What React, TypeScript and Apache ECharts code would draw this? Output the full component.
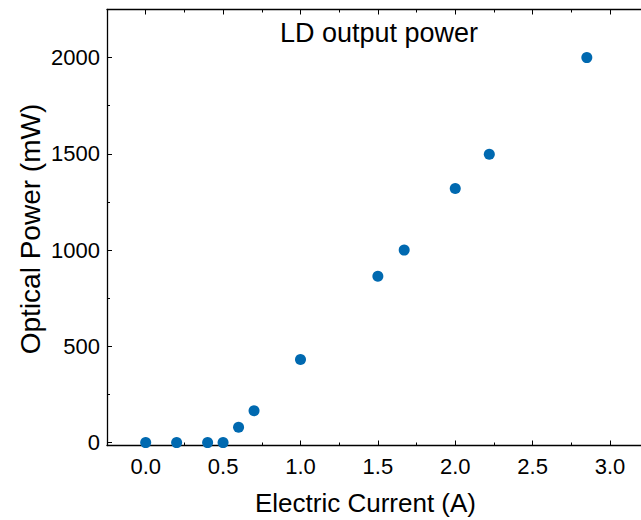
import React, { useEffect, useRef } from "react";
import * as echarts from "echarts";

const currentA = [0.0, 0.2, 0.4, 0.5, 0.6, 0.7, 1.0, 1.5, 1.67, 2.0, 2.22, 2.85];
const powerMW = [0, 0, 0, 0, 80, 165, 432, 864, 1000, 1320, 1498, 2000];
const xMajor = [0, 0.5, 1.0, 1.5, 2.0, 2.5, 3.0];
const xMinor = [-0.25, 0.25, 0.75, 1.25, 1.75, 2.25, 2.75];
const yMajor = [0, 500, 1000, 1500, 2000];
const yMinor = [250, 750, 1250, 1750];
const titleText = "LD output power";
const xTitle = "Electric Current (A)";
const yTitle = "Optical Power (mW)";

const FONT = "'Liberation Sans', Arial, sans-serif";
const X_MIN = -0.25;
const X_MAX = 3.2;
const Y_MIN = -15;
const Y_MAX = 2250;

export default function App() {
  const ref = useRef<HTMLDivElement>(null);
  useEffect(() => {
    const chart = echarts.init(ref.current!, null, { renderer: "svg" });
    const line = { show: true, onZero: false, lineStyle: { color: "#000", width: 1.3 } };
    const noLine = { show: false, onZero: false };
    const tick = (vals: number[], len: number) => ({
      show: true,
      inside: true,
      length: len,
      customValues: vals,
      lineStyle: { color: "#000", width: 1 },
    });
    const xBase = { type: "value" as const, min: X_MIN, max: X_MAX, splitLine: { show: false } };
    const yBase = { type: "value" as const, min: Y_MIN, max: Y_MAX, splitLine: { show: false } };
    chart.setOption({
      animation: false,
      backgroundColor: "#fff",
      grid: { left: 107, top: 9.5, width: 535, height: 436, containLabel: false },
      graphic: [
        {
          type: "text",
          x: 379,
          y: 33,
          style: {
            text: titleText,
            fontFamily: FONT,
            fontSize: 27,
            fill: "#000",
            align: "center",
            verticalAlign: "middle",
          },
        },
        {
          type: "text",
          x: 365.5,
          y: 503,
          style: {
            text: xTitle,
            fontFamily: FONT,
            fontSize: 26,
            fill: "#000",
            align: "center",
            verticalAlign: "middle",
          },
        },
        {
          type: "text",
          x: 30,
          y: 229,
          rotation: Math.PI / 2,
          style: {
            text: yTitle,
            fontFamily: FONT,
            fontSize: 28,
            fill: "#000",
            align: "center",
            verticalAlign: "middle",
          },
        },
      ],
      xAxis: [
        {
          ...xBase,
          position: "bottom",
          axisLine: line,
          axisTick: tick(xMajor, 5),
          axisLabel: {
            show: true,
            margin: 10,
            fontFamily: FONT,
            fontSize: 22,
            color: "#000",
            customValues: xMajor,
            formatter: (v: number) => v.toFixed(1),
          },
        },
        {
          ...xBase,
          position: "bottom",
          axisLine: noLine,
          axisTick: tick(xMinor, 3),
          axisLabel: { show: false },
        },
        {
          ...xBase,
          position: "top",
          axisLine: line,
          axisTick: tick(xMajor, 5),
          axisLabel: { show: false },
        },
        {
          ...xBase,
          position: "top",
          axisLine: noLine,
          axisTick: tick(xMinor, 3),
          axisLabel: { show: false },
        },
      ],
      yAxis: [
        {
          ...yBase,
          position: "left",
          axisLine: line,
          axisTick: tick(yMajor, 5),
          axisLabel: {
            show: true,
            margin: 7,
            fontFamily: FONT,
            fontSize: 22,
            color: "#000",
            customValues: yMajor,
            formatter: (v: number) => String(v),
          },
        },
        {
          ...yBase,
          position: "left",
          axisLine: noLine,
          axisTick: tick(yMinor, 3),
          axisLabel: { show: false },
        },
      ],
      series: [
        {
          type: "scatter",
          xAxisIndex: 0,
          yAxisIndex: 0,
          data: currentA.map((x, i) => [x, powerMW[i]]),
          symbol: "circle",
          symbolSize: 11,
          itemStyle: { color: "#0069b0", opacity: 1 },
          clip: false,
        },
      ],
    });
    return () => chart.dispose();
  }, []);
  return (
    <div
      ref={ref}
      style={{ position: "fixed", left: 0, top: 0, width: 641, height: 520 }}
    />
  );
}
